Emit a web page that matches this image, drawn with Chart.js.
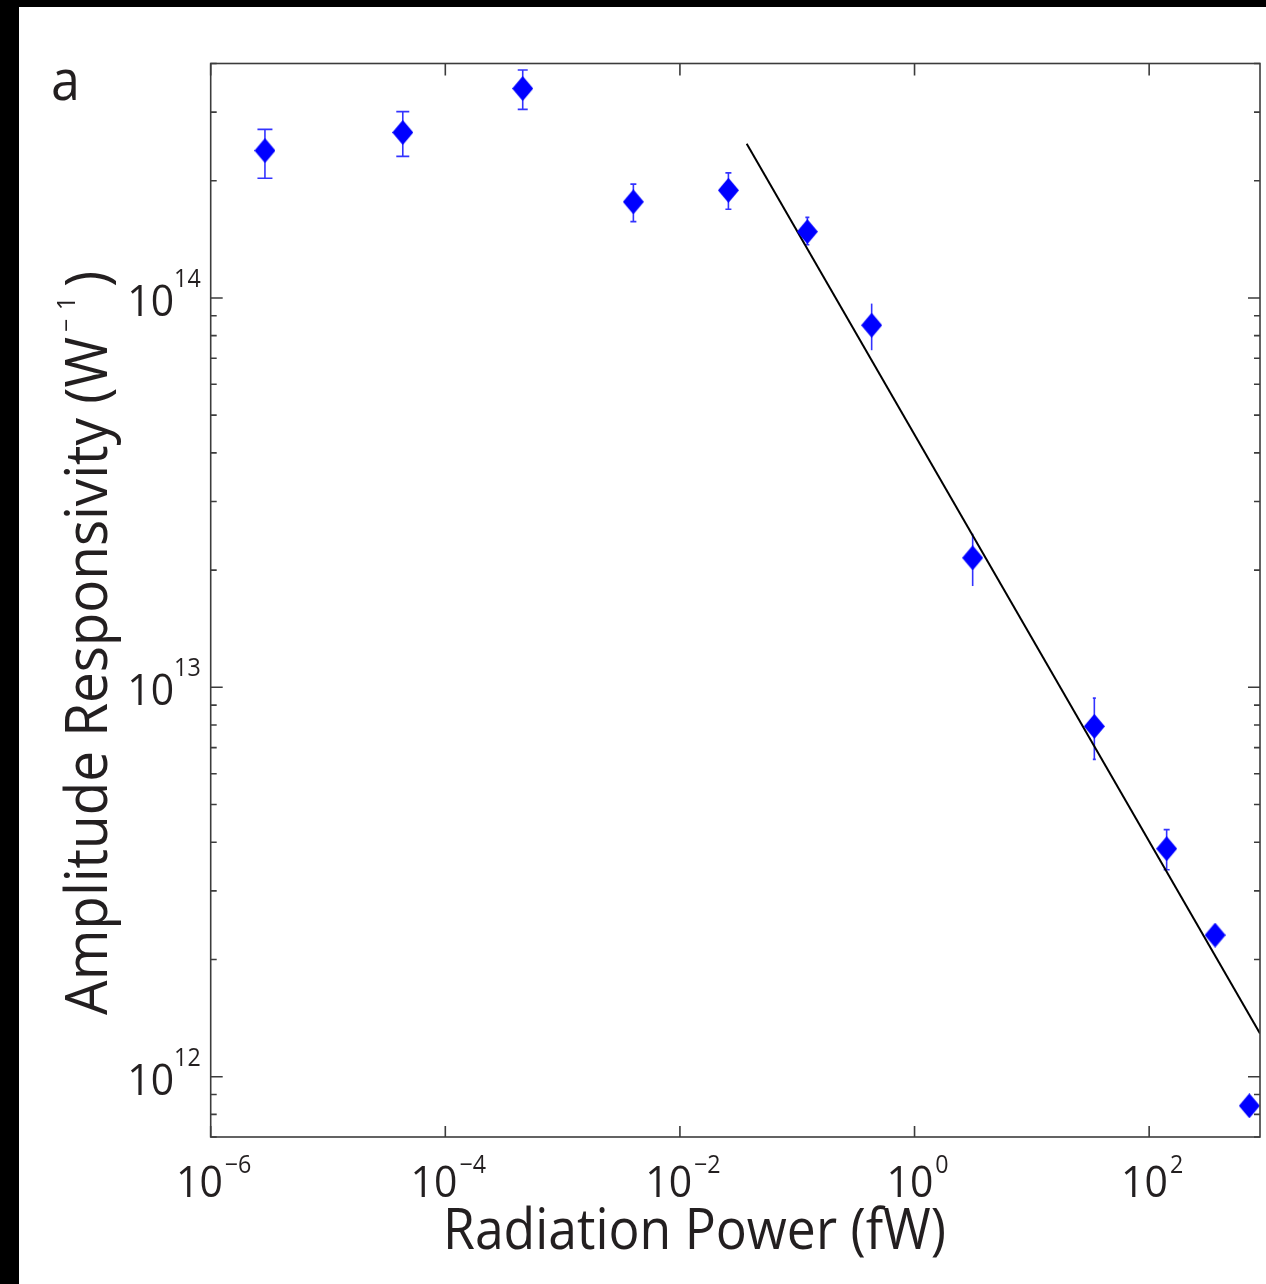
<!DOCTYPE html>
<html>
<head>
<meta charset="utf-8">
<script src="https://cdn.jsdelivr.net/npm/chart.js@4.4.1/dist/chart.umd.min.js"></script>
<style>
  html, body { margin: 0; padding: 0; background: #000; overflow: hidden; }
  #wrap { position: absolute; left: 19px; top: 7px; width: 1247px; height: 1277px; background: #fff; }
  #chart { display: block; }
</style>
</head>
<body>
<div id="wrap"><canvas id="chart" width="1247" height="1277"></canvas></div>
<script>
// radiation power (fW)
const power = [2.9e-6, 4.34e-5, 4.57e-4, 4.01e-3, 2.59e-2, 0.122, 0.431, 3.13, 34.1, 141, 365, 715];
// amplitude responsivity (W^-1) and error bar ends
const resp = [2.39e14, 2.66e14, 3.45e14, 1.765e14, 1.89e14, 1.48e14, 8.51e13, 2.15e13, 7.94e12, 3.85e12, 2.31e12, 8.42e11];
const respLow = [2.03e14, 2.31e14, 3.05e14, 1.57e14, 1.69e14, 1.37e14, 7.34e13, 1.82e13, 6.53e12, 3.40e12, 2.27e12, 8.35e11];
const respHigh = [2.71e14, 3.01e14, 3.85e14, 1.96e14, 2.095e14, 1.61e14, 9.67e13, 2.48e13, 9.38e12, 4.31e12, 2.35e12, 8.5e11];
// power law fit, end points
const fitPower = [0.0371, 881];
const fitResp = [2.49e14, 1.29e12];
// decade labels
const xTickExp = [-6, -4, -2, 0, 2];
const yTickExp = [12, 13, 14];

// error bar cap half widths (px)
const capHalf = [7.5, 6.5, 5, 3, 3, 2, 0, 0, 1.5, 3, 0, 0];

const FONT = '"Open Sans", "DejaVu Sans", sans-serif';
const SQUEEZE = 0.93;

// diamond marker
const diamond = document.createElement('canvas');
diamond.width = 21;
diamond.height = 25;
const dctx = diamond.getContext('2d');
dctx.fillStyle = '#0000ff';
dctx.beginPath();
dctx.moveTo(10.5, 0);
dctx.lineTo(21, 12.5);
dctx.lineTo(10.5, 25);
dctx.lineTo(0, 12.5);
dctx.closePath();
dctx.fill();

function textW(ctx, str, font) {
  ctx.font = font;
  return ctx.measureText(str).width * SQUEEZE;
}

// draw text squeezed horizontally (or to a given width)
function drawText(ctx, str, x, y, font, width) {
  ctx.font = font;
  const w = ctx.measureText(str).width;
  const sx = width ? width / w : SQUEEZE;
  ctx.save();
  ctx.translate(x, y);
  ctx.scale(sx, 1);
  ctx.textAlign = 'left';
  ctx.textBaseline = 'alphabetic';
  ctx.fillText(str, 0, 0);
  ctx.restore();
}

function expStr(e) {
  return e < 0 ? '\u2212' + (-e) : String(e);
}

const errorBars = {
  id: 'errorBars',
  beforeDatasetsDraw(chart) {
    const { ctx, scales: { x, y } } = chart;
    ctx.save();
    ctx.strokeStyle = 'rgba(0, 0, 255, 0.8)';
    ctx.lineWidth = 1.6;
    power.forEach((p, i) => {
      const px = x.getPixelForValue(p);
      const top = y.getPixelForValue(respHigh[i]);
      const bot = y.getPixelForValue(respLow[i]);
      const c = capHalf[i];
      ctx.beginPath();
      ctx.moveTo(px, top);
      ctx.lineTo(px, bot);
      if (c > 0) {
        ctx.moveTo(px - c, top);
        ctx.lineTo(px + c, top);
        ctx.moveTo(px - c, bot);
        ctx.lineTo(px + c, bot);
      }
      ctx.stroke();
    });
    ctx.restore();
  }
};

const frame = {
  id: 'frame',
  afterDatasetsDraw(chart) {
    const { ctx, chartArea: a, scales: { x, y } } = chart;
    ctx.save();
    ctx.strokeStyle = '#3c3c3c';
    ctx.lineWidth = 1.6;
    ctx.beginPath();
    xTickExp.forEach(e => {
      const px = x.getPixelForValue(10 ** e);
      ctx.moveTo(px, a.bottom);
      ctx.lineTo(px, a.bottom - 11);
      ctx.moveTo(px, a.top);
      ctx.lineTo(px, a.top + 12);
    });
    for (let e = 11; e <= 14; e++) {
      for (let m = 1; m <= 9; m++) {
        const v = m * 10 ** e;
        if (v < y.min || v > y.max) continue;
        const py = y.getPixelForValue(v);
        const len = m === 1 ? 12 : 6;
        ctx.moveTo(a.left, py);
        ctx.lineTo(a.left + len, py);
        ctx.moveTo(a.right, py);
        ctx.lineTo(a.right - len, py);
      }
    }
    ctx.stroke();
    ctx.strokeRect(a.left, a.top, a.right - a.left, a.bottom - a.top);
    ctx.restore();
  },
  afterDraw(chart) {
    const { ctx, chartArea: a, scales: { x, y } } = chart;
    const big = '44px ' + FONT;
    const small = '25px ' + FONT;
    ctx.save();
    ctx.fillStyle = '#231f20';

    // x tick labels
    xTickExp.forEach(e => {
      const px = x.getPixelForValue(10 ** e);
      const w1 = textW(ctx, '10', big);
      const w2 = textW(ctx, expStr(e), small);
      const start = px + 3 - (w1 + 2 + w2) / 2;
      drawText(ctx, '10', start, a.bottom + 60, big);
      drawText(ctx, expStr(e), start + w1 + 2, a.bottom + 36, small);
    });

    // y tick labels
    yTickExp.forEach(e => {
      const py = y.getPixelForValue(10 ** e);
      const w1 = textW(ctx, '10', big);
      const w2 = textW(ctx, expStr(e), small);
      const right = a.left - 10;
      drawText(ctx, expStr(e), right - w2, py - 11, small);
      drawText(ctx, '10', right - w2 - w1, py + 18, big);
    });

    // x title
    drawText(ctx, 'Radiation Power (fW)', 424, 1242, '56px ' + FONT, 503);

    // y title, rotated
    ctx.save();
    ctx.translate(88, 1008);
    ctx.rotate(-Math.PI / 2);
    drawText(ctx, 'Amplitude Responsivity (W', 0, 0, '59px ' + FONT, 678);
    drawText(ctx, '\u2212', 683, -32, '25px ' + FONT);
    drawText(ctx, '1', 705, -32, '25px ' + FONT);
    drawText(ctx, ')', 728, 0, '59px ' + FONT);
    ctx.restore();

    // panel letter
    drawText(ctx, 'a', 32, 93, '56px ' + FONT);
    ctx.restore();
  }
};

const points = power.map((p, i) => ({ x: p, y: resp[i] }));
const fit = fitPower.map((p, i) => ({ x: p, y: fitResp[i] }));

new Chart(document.getElementById('chart'), {
  type: 'scatter',
  data: {
    datasets: [
      {
        data: points,
        pointStyle: diamond,
        pointRadius: 11,
        showLine: false
      },
      {
        data: fit,
        showLine: true,
        borderColor: '#000',
        borderWidth: 2,
        pointRadius: 0
      }
    ]
  },
  options: {
    responsive: false,
    animation: false,
    layout: {
      autoPadding: false,
      padding: { left: 191.7, top: 56.5, right: 6, bottom: 147 }
    },
    scales: {
      x: { type: 'logarithmic', display: false, min: 1e-6, max: 881, bounds: 'data' },
      y: { type: 'logarithmic', display: false, min: 7e11, max: 4e14, bounds: 'data' }
    },
    plugins: {
      legend: { display: false },
      tooltip: { enabled: false }
    }
  },
  plugins: [errorBars, frame]
});
</script>
</body>
</html>
